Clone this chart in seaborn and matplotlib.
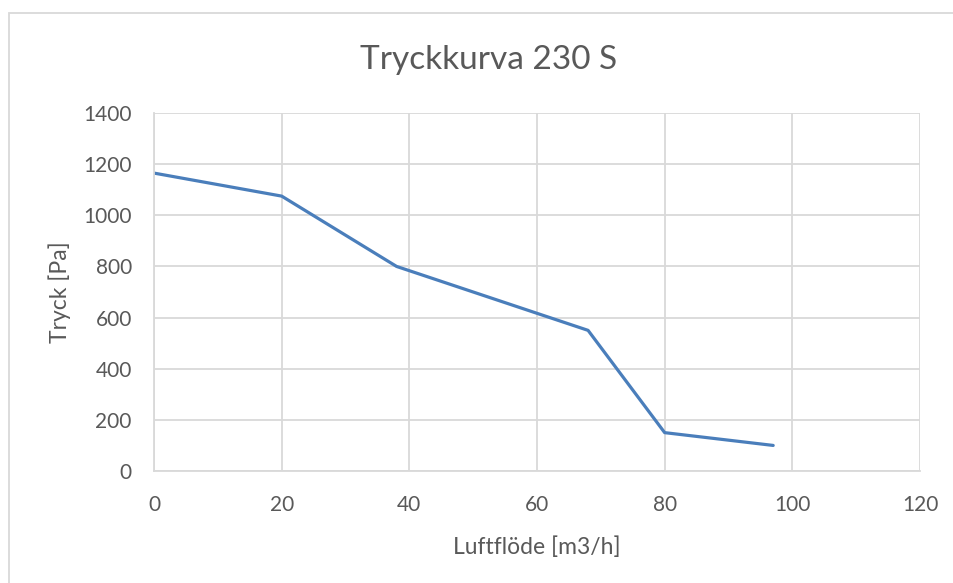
import pandas as pd
import matplotlib.pyplot as plt
import matplotlib.patches as mpatches
import seaborn as sns

# data
luftflode = [0, 20, 38, 68, 80, 97]
tryck = [1165, 1075, 800, 550, 150, 100]
x_ticks = [0, 20, 40, 60, 80, 100, 120]
y_ticks = [0, 200, 400, 600, 800, 1000, 1200, 1400]

df = pd.DataFrame({'luftflode': luftflode, 'tryck': tryck})

sns.set_theme(style="white")
plt.rcParams['font.family'] = ['Lato', 'DejaVu Sans']
text_color = '#595959'
grid_color = '#D9D9D9'

fig = plt.figure(figsize=(9.54, 5.83), dpi=100)
ax = fig.add_axes([154 / 954, 112 / 583, (920 - 154) / 954, (471 - 113) / 583])

sns.lineplot(data=df, x='luftflode', y='tryck', ax=ax, color='#4A7EBB',
             linewidth=2.3, sort=False)

ax.set_xlim(0, 120)
ax.set_ylim(0, 1400)
ax.set_xticks(x_ticks)
ax.set_yticks(y_ticks)
ax.grid(True, color=grid_color, linewidth=1.3)
ax.set_axisbelow(True)
for side in ['top', 'right']:
    ax.spines[side].set_visible(False)
ax.spines['left'].set_color(grid_color)
ax.spines['left'].set_linewidth(1.3)
ax.spines['bottom'].set_color(grid_color)
ax.spines['bottom'].set_linewidth(1.3)
ax.tick_params(axis='both', length=0, labelsize=15, labelcolor=text_color)
ax.tick_params(axis='y', pad=16)
ax.tick_params(axis='x', pad=17)

ax.set_xlabel('Luftflöde [m3/h]', fontsize=16.5, color=text_color, labelpad=16)
ax.set_ylabel('Tryck [Pa]', fontsize=16.5, color=text_color, labelpad=9)
fig.text(489 / 954, 1 - 60 / 583, 'Tryckkurva 230 S', fontsize=24,
         color=text_color, ha='center', va='center')

# outer chart border (right and bottom edges fall outside the image)
border = mpatches.Rectangle((9 / 954, -0.1), 1.1, 1.1 - 13 / 583, transform=fig.transFigure,
                            fill=False, edgecolor=grid_color, linewidth=1.3)
fig.patches.append(border)

plt.savefig('out.png', dpi=100)
